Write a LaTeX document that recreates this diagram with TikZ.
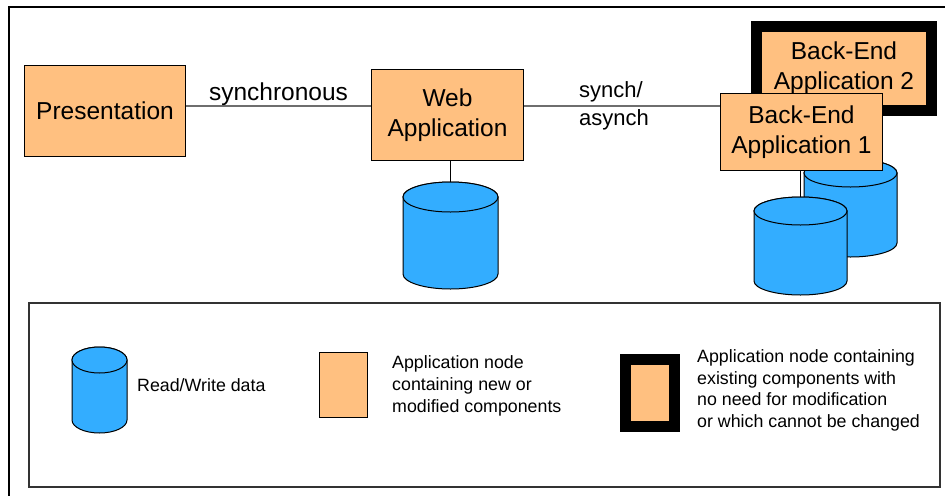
\documentclass[tikz,border=0pt]{standalone}
\usepackage{fontspec}
\setmainfont{Liberation Sans}
\definecolor{appfill}{RGB}{255,192,128}
\definecolor{dbfill}{RGB}{51,173,255}
\definecolor{linkgray}{RGB}{110,110,110}
% data store: name, centre x, centre y, x radius, half height, y radius
\newcommand{\datacyl}[6]{%
  \draw[dbshape] (#2-#4,#3-#5+#6) -- (#2-#4,#3+#5-#6)
    arc[start angle=180,end angle=0,x radius=#4,y radius=#6]
    -- (#2+#4,#3-#5+#6)
    arc[start angle=0,end angle=-180,x radius=#4,y radius=#6] -- cycle;
  \draw[dbshape] (#2,#3-#5+#6) ellipse[x radius=#4,y radius=#6];
  \coordinate (#1) at (#2,#3-#5);
}
\begin{document}
\begin{tikzpicture}[x=1pt,y=-1pt,
  appbox/.style={draw=black,line width=1.5pt,fill=appfill,align=center,inner sep=0pt,
    font=\fontsize{24.5}{30}\selectfont},
  oldbox/.style={appbox,line width=11pt},
  dbshape/.style={draw=black,line width=1pt,fill=dbfill},
  link/.style={draw=linkgray,line width=1.2pt},
  dblink/.style={draw=black,line width=1.5pt},
  legtext/.style={anchor=west,align=left,inner sep=0pt,font=\fontsize{17.8}{21.7}\selectfont}]
\useasboundingbox (0,0) rectangle (945,496);
\pgfmathsetmacro{\busy}{106}
%
\draw[line width=1.5pt] (945,7) -- (9,7) -- (9,496);
%
\node[appbox,minimum width=161pt,minimum height=91pt] (pres) at (105,111) {Presentation};
\node[appbox,minimum width=152pt,minimum height=91pt] (web) at (447.5,115) {Web\\Application};
\node[oldbox,minimum width=175pt,minimum height=84pt] (back2) at (844,68.5) {Back-End\\Application 2};
\datacyl{back2db}{850.5}{208}{46.5}{49}{14}
\node[appbox,minimum width=162pt,minimum height=77pt] (back1) at (801.5,132) {Back-End\\Application 1};
\datacyl{back1db}{800.5}{246}{46.5}{49}{14}
\datacyl{webdb}{450.5}{235.5}{47.5}{53.5}{15}
%
\coordinate (bus) at (0,\busy);
\draw[link] (pres.east |- bus) -- node[midway,anchor=base,yshift=6pt,font=\fontsize{24.5}{30}\selectfont]{synchronous} (web.west |- bus);
\draw[link] (web.east |- bus) -- node[midway,xshift=-8pt,align=left,inner sep=0pt,font=\fontsize{22}{28}\selectfont]{synch/\\asynch} (back1.west |- bus);
%
\draw[dblink] (webdb) -- (webdb |- web.south);
\draw[dblink] (back1db) -- (back1db |- back1.south);
%
\node[draw=black!80,line width=1.5pt,minimum width=911pt,minimum height=184pt] (legend) at (484.5,395) {};
\datacyl{legdb}{99.5}{390}{27.5}{43}{13}
\node[legtext] (legdbtext) at (137,385) {Read/Write data};
\node[appbox,minimum width=48pt,minimum height=65pt] (legnew) at (343.5,385) {};
\node[legtext] (legnewtext) at (392,386) {Application node\\containing new or\\modified components};
\node[oldbox,minimum width=49pt,minimum height=67pt] (legold) at (650,393) {};
\node[legtext] (legoldtext) at (697,390.5) {Application node containing\\existing components with\\no need for modification\\or which cannot be changed};
\end{tikzpicture}
\end{document}
